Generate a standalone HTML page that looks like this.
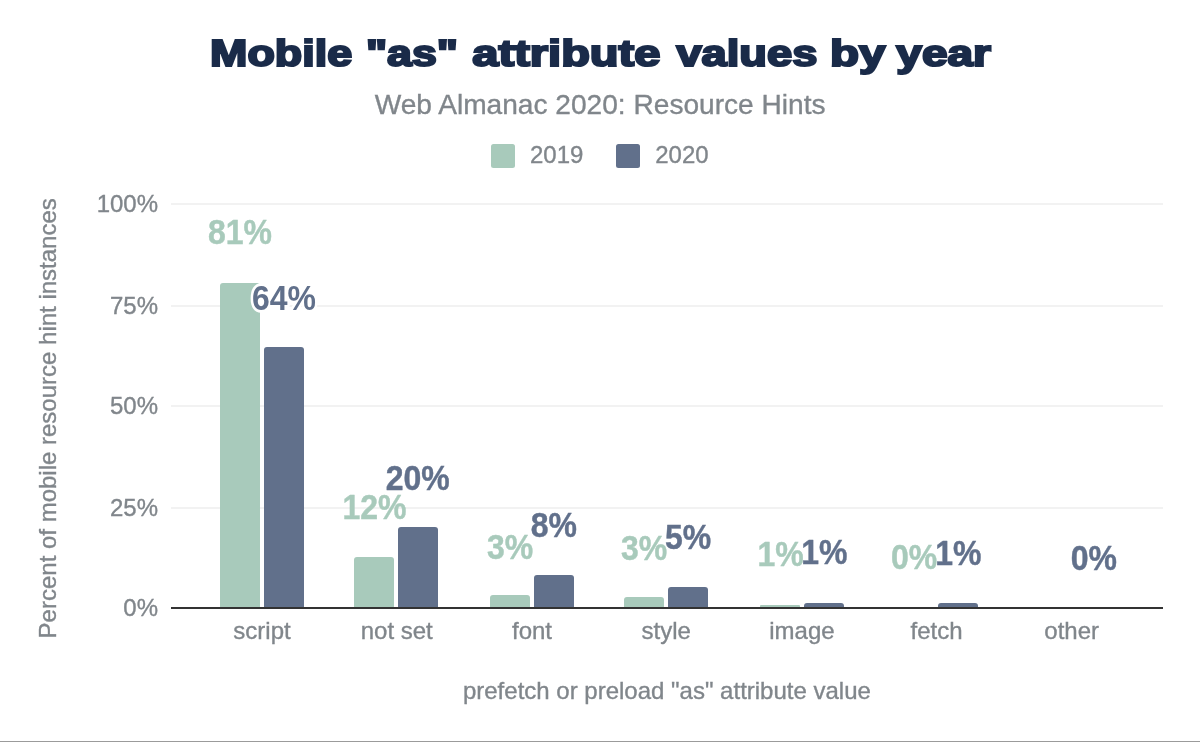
<!DOCTYPE html>
<html lang="en">
<head>
<meta charset="utf-8">
<title>Mobile "as" attribute values by year</title>
<style>
html,body{margin:0;padding:0;background:#fff;}
body{width:1200px;height:742px;overflow:hidden;}
svg{display:block;}
text{font-family:"Liberation Sans",Arial,Helvetica,sans-serif;}
.g{fill:#80868b;stroke:#80868b;stroke-width:.35px;font-size:24px;}
.dl{font-size:32px;font-weight:bold;stroke:#fff;stroke-width:5px;paint-order:stroke fill;stroke-linejoin:round;}
.c19.ns{stroke:#a8cabb;stroke-width:.4px;}
.c20.ns{stroke:#61708b;stroke-width:.4px;}
.c19{fill:#a8cabb;}
.c20{fill:#61708b;}
</style>
</head>
<body>
<svg width="1200" height="742" viewBox="0 0 1200 742">
<rect width="1200" height="742" fill="#fff"/>
<text id="title" transform="translate(0 66.4) scale(1 0.95)" font-size="39.5" font-weight="bold" fill="#1a2b49" stroke="#1a2b49" stroke-width="2.3" stroke-linejoin="miter" stroke-miterlimit="3"><tspan x="210.10" textLength="142.04" lengthAdjust="spacingAndGlyphs">Mobile</tspan> <tspan x="365.95" textLength="92.01" lengthAdjust="spacingAndGlyphs">&quot;as&quot;</tspan> <tspan x="472.39" textLength="188.02" lengthAdjust="spacingAndGlyphs">attribute</tspan> <tspan x="676.47" textLength="140.86" lengthAdjust="spacingAndGlyphs">values</tspan> <tspan x="829.97" textLength="55.41" lengthAdjust="spacingAndGlyphs">by</tspan> <tspan x="896.38" textLength="94.65" lengthAdjust="spacingAndGlyphs">year</tspan></text>
<text class="g" transform="translate(600.1 114.1) scale(1.004 1.02)" text-anchor="middle" id="sub" style="font-size:28px">Web Almanac 2020: Resource Hints</text>
<rect x="491" y="144" width="24" height="24" rx="2.5" class="c19"/>
<text class="g" transform="translate(530 163) scale(1 1.035)" id="l19">2019</text>
<rect x="616" y="144" width="24" height="24" rx="2.5" class="c20"/>
<text class="g" transform="translate(655.2 163) scale(1 1.035)" id="l20">2020</text>
<g fill="#f2f2f2">
<rect x="171" y="203" width="992" height="2"/>
<rect x="171" y="305" width="992" height="2"/>
<rect x="171" y="405" width="992" height="2"/>
<rect x="171" y="507" width="992" height="2"/>
</g>
<text class="g" transform="translate(158 211.5) scale(1 1.035)" text-anchor="end">100%</text>
<text class="g" transform="translate(158 313.5) scale(1 1.035)" text-anchor="end">75%</text>
<text class="g" transform="translate(158 413.5) scale(1 1.035)" text-anchor="end">50%</text>
<text class="g" transform="translate(158 515.5) scale(1 1.035)" text-anchor="end">25%</text>
<text class="g" transform="translate(158 615.5) scale(1 1.035)" text-anchor="end">0%</text>
<text class="g" transform="translate(56.3 418.3) rotate(-90) scale(1 1.0)" text-anchor="middle" id="ytitle">Percent of mobile resource hint instances</text>
<path class="c19" d="M220 608V286a3 3 0 0 1 3-3h34a3 3 0 0 1 3 3V608z"/>
<path class="c19" d="M354 608V560a3 3 0 0 1 3-3h34a3 3 0 0 1 3 3V608z"/>
<path class="c19" d="M490 608V598a3 3 0 0 1 3-3h34a3 3 0 0 1 3 3V608z"/>
<path class="c19" d="M624 608V600a3 3 0 0 1 3-3h34a3 3 0 0 1 3 3V608z"/>
<path class="c19" d="M760 608V606a1 1 0 0 1 1-1h38a1 1 0 0 1 1 1V608z"/>
<path class="c20" d="M264 608V350a3 3 0 0 1 3-3h34a3 3 0 0 1 3 3V608z"/>
<path class="c20" d="M398 608V530a3 3 0 0 1 3-3h34a3 3 0 0 1 3 3V608z"/>
<path class="c20" d="M534 608V578a3 3 0 0 1 3-3h34a3 3 0 0 1 3 3V608z"/>
<path class="c20" d="M668 608V590a3 3 0 0 1 3-3h34a3 3 0 0 1 3 3V608z"/>
<path class="c20" d="M804 608V606a3 3 0 0 1 3-3h34a3 3 0 0 1 3 3V608z"/>
<path class="c20" d="M938 608V606a3 3 0 0 1 3-3h34a3 3 0 0 1 3 3V608z"/>
<rect x="171" y="607" width="992" height="2" fill="#333333"/>
<text class="dl c19 ns" transform="translate(240.0 243.7) scale(1 1.085)" text-anchor="middle">81%</text>
<text class="dl c20" transform="translate(283.9 309.7) scale(1 1.085)" text-anchor="middle">64%</text>
<text class="dl c19 ns" transform="translate(374.4 519.4) scale(1 1.085)" text-anchor="middle">12%</text>
<text class="dl c20 ns" transform="translate(417.8 490.1) scale(1 1.085)" text-anchor="middle">20%</text>
<text class="dl c19 ns" transform="translate(510.0 558.6) scale(1 1.085)" text-anchor="middle">3%</text>
<text class="dl c20 ns" transform="translate(553.9 537.4) scale(1 1.085)" text-anchor="middle">8%</text>
<text class="dl c19 ns" transform="translate(644.0 559.6) scale(1 1.085)" text-anchor="middle">3%</text>
<text class="dl c20 ns" transform="translate(688.2 549.4) scale(1 1.085)" text-anchor="middle">5%</text>
<text class="dl c19 ns" transform="translate(780.6 566.2) scale(1 1.085)" text-anchor="middle">1%</text>
<text class="dl c20 ns" transform="translate(824.4 564.2) scale(1 1.085)" text-anchor="middle">1%</text>
<text class="dl c19 ns" transform="translate(914.0 568.5) scale(1 1.085)" text-anchor="middle">0%</text>
<text class="dl c20 ns" transform="translate(958.4 565.1) scale(1 1.085)" text-anchor="middle">1%</text>
<text class="dl c20 ns" transform="translate(1093.8 569.6) scale(1 1.085)" text-anchor="middle">0%</text>
<text class="g" transform="translate(262 638.6) scale(1 1.0)" text-anchor="middle">script</text>
<text class="g" transform="translate(396.7 638.6) scale(1 1.0)" text-anchor="middle">not set</text>
<text class="g" transform="translate(532 638.6) scale(1 1.0)" text-anchor="middle">font</text>
<text class="g" transform="translate(666.2 638.6) scale(1 1.0)" text-anchor="middle">style</text>
<text class="g" transform="translate(801.9 638.6) scale(1 1.0)" text-anchor="middle">image</text>
<text class="g" transform="translate(936.6 638.6) scale(1 1.0)" text-anchor="middle">fetch</text>
<text class="g" transform="translate(1071.7 638.6) scale(1 1.0)" text-anchor="middle">other</text>
<text class="g" transform="translate(666.9 698.6) scale(1 1.0)" text-anchor="middle" id="xtitle">prefetch or preload &quot;as&quot; attribute value</text>
<rect x="0" y="741" width="1200" height="1" fill="#9b9b9b"/>
</svg>
</body>
</html>
